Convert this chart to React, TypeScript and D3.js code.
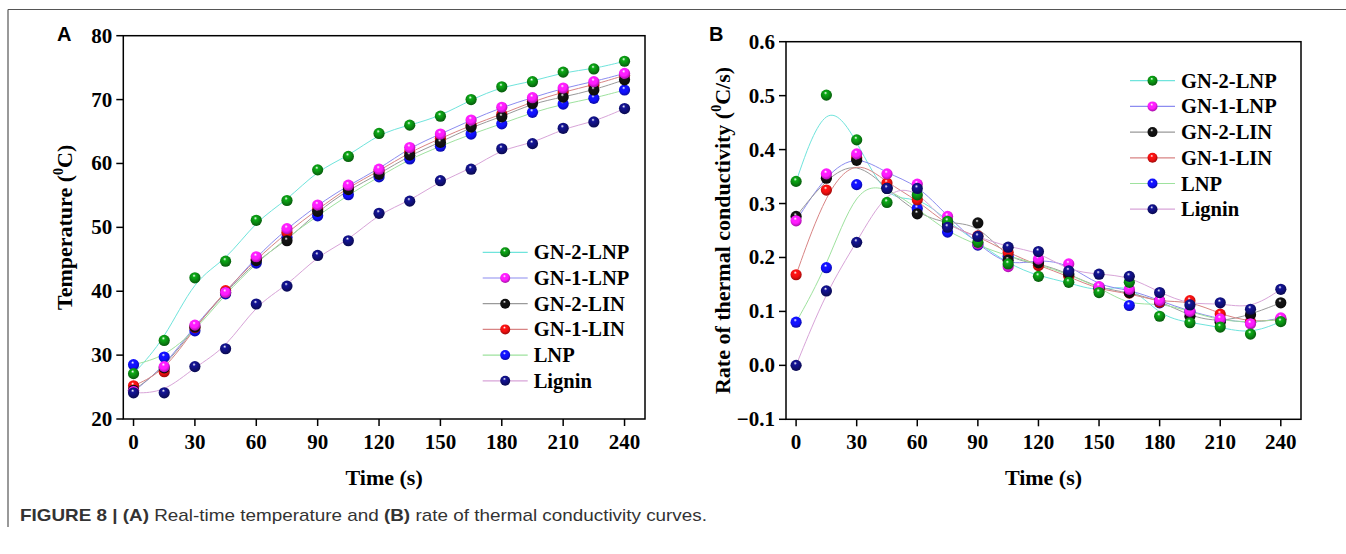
import React from "react";
import * as d3 from "d3";

// time axis (s)
const times = [0, 15, 30, 45, 60, 75, 90, 105, 120, 135, 150, 165, 180, 195, 210, 225, 240];
const xTicks = [0, 30, 60, 90, 120, 150, 180, 210, 240];

const seriesNames = ["GN-2-LNP", "GN-1-LNP", "GN-2-LIN", "GN-1-LIN", "LNP", "Lignin"];
const markerColors = ["#0a8a12", "#ff1aff", "#111111", "#f01010", "#1010ff", "#10107a"];
const lineColors = ["#6fe4dc", "#8c8cf0", "#9a9a9a", "#d88484", "#9ee29e", "#d8a4d8"];

// (A) temperature, degC
const tempGN2LNP = [27.1, 32.3, 42.1, 44.7, 51.1, 54.2, 59.0, 61.1, 64.7, 66.0, 67.4, 70.0, 72.0, 72.8, 74.3, 74.8, 76.0];
const tempGN1LNP = [24.3, 28.2, 34.7, 39.8, 45.4, 49.8, 53.5, 56.6, 59.1, 62.5, 64.6, 66.8, 68.8, 70.3, 71.8, 72.8, 74.1];
const tempGN2LIN = [24.5, 28.0, 34.4, 39.8, 44.8, 47.9, 52.5, 55.9, 58.3, 61.3, 63.3, 65.7, 67.3, 69.4, 70.4, 71.5, 73.1];
const tempGN1LIN = [25.2, 27.4, 34.3, 40.1, 45.0, 49.2, 52.8, 56.3, 58.8, 61.8, 63.9, 66.0, 67.7, 69.7, 71.2, 72.3, 73.8];
const tempLNP = [28.5, 29.7, 33.8, 39.6, 44.4, 48.4, 51.8, 55.1, 57.9, 60.7, 62.7, 64.6, 66.2, 68.0, 69.3, 70.2, 71.5];
const tempLignin = [24.1, 24.1, 28.2, 31.0, 38.0, 40.8, 45.6, 47.9, 52.2, 54.1, 57.3, 59.1, 62.3, 63.1, 65.5, 66.5, 68.6];
const tempTicks = [20, 30, 40, 50, 60, 70, 80];

// (B) rate of thermal conductivity, degC/s
const rateGN2LNP = [0.341, 0.501, 0.418, 0.302, 0.316, 0.267, 0.228, 0.188, 0.165, 0.154, 0.135, 0.154, 0.091, 0.079, 0.071, 0.058, 0.081];
const rateGN1LNP = [0.268, 0.355, 0.392, 0.355, 0.336, 0.276, 0.225, 0.183, 0.197, 0.188, 0.146, 0.141, 0.120, 0.100, 0.086, 0.077, 0.088];
const rateGN2LIN = [0.276, 0.347, 0.380, 0.328, 0.281, 0.262, 0.264, 0.195, 0.190, 0.170, 0.143, 0.135, 0.120, 0.091, 0.080, 0.094, 0.116];
const rateGN1LIN = [0.168, 0.325, 0.385, 0.338, 0.307, 0.258, 0.240, 0.209, 0.185, 0.165, 0.140, 0.134, 0.117, 0.120, 0.095, 0.080, 0.085];
const rateLNP = [0.080, 0.181, 0.335, 0.330, 0.291, 0.247, 0.223, 0.202, 0.188, 0.168, 0.145, 0.111, 0.116, 0.100, 0.083, 0.080, 0.085];
const rateLignin = [0.000, 0.138, 0.228, 0.328, 0.328, 0.256, 0.239, 0.219, 0.211, 0.175, 0.169, 0.165, 0.135, 0.112, 0.116, 0.104, 0.141];
const rateTicks = [-0.1, 0.0, 0.1, 0.2, 0.3, 0.4, 0.5, 0.6];

const tempSeries = [tempGN2LNP, tempGN1LNP, tempGN2LIN, tempGN1LIN, tempLNP, tempLignin];
const rateSeries = [rateGN2LNP, rateGN1LNP, rateGN2LIN, rateGN1LIN, rateLNP, rateLignin];

// marker draw order (last on top)
const drawOrder = [4, 3, 2, 1, 0, 5];

const serif = "'Liberation Serif', 'Times New Roman', serif";

type PanelProps = {
  label: string;
  left: number; right: number; top: number; bottom: number;
  yDomain: [number, number];
  yTicks: number[];
  yFmt: (v: number) => string;
  series: number[][];
  yTitle: string;
  yTitleX: number;
  legendX: number; legendY: number;
  labelX: number;
};

const Panel = (p: PanelProps) => {
  const x = d3.scaleLinear().domain([-5, 250]).range([p.left, p.right]);
  const y = d3.scaleLinear().domain(p.yDomain).range([p.bottom, p.top]);
  const line = d3.line<number>()
    .x((_, i) => x(times[i]))
    .y(v => y(v))
    .curve(d3.curveBasis);
  const midY = (p.top + p.bottom) / 2;

  return (
    <g>
      <text x={p.labelX} y={41} fontFamily="'Liberation Sans', Arial, sans-serif" fontWeight="bold" fontSize={20}>{p.label}</text>
      {/* lines */}
      {seriesNames.map((_, k) => (
        <path key={"l" + k} d={line(p.series[k]) || ""} fill="none" stroke={lineColors[k]} strokeWidth={1} />
      ))}
      {/* markers */}
      {drawOrder.map(k => (
        <g key={"m" + k}>
          {p.series[k].map((v, i) => (
            <circle key={i} cx={x(times[i])} cy={y(v)} r={5.6} fill={`url(#ball${k})`} />
          ))}
        </g>
      ))}
      {/* frame */}
      <rect x={p.left} y={p.top} width={p.right - p.left} height={p.bottom - p.top} fill="none" stroke="#000" strokeWidth={1.5} />
      {/* y ticks */}
      {p.yTicks.map(t => (
        <g key={"y" + t}>
          <line x1={p.left - 7} x2={p.left} y1={y(t)} y2={y(t)} stroke="#000" strokeWidth={1.5} />
          <text x={p.left - 11} y={y(t) + 7} textAnchor="end" fontFamily={serif} fontWeight="bold" fontSize={21}>{p.yFmt(t)}</text>
        </g>
      ))}
      {/* x ticks */}
      {xTicks.map(t => (
        <g key={"x" + t}>
          <line x1={x(t)} x2={x(t)} y1={p.bottom} y2={p.bottom + 7} stroke="#000" strokeWidth={1.5} />
          <text x={x(t)} y={p.bottom + 30} textAnchor="middle" fontFamily={serif} fontWeight="bold" fontSize={21}>{t}</text>
        </g>
      ))}
      <text x={(p.left + p.right) / 2} y={p.bottom + 66} textAnchor="middle" fontFamily={serif} fontWeight="bold" fontSize={22}>Time (s)</text>
      <text transform={`translate(${p.yTitleX},${midY}) rotate(-90)`} textAnchor="middle" fontFamily={serif} fontWeight="bold" fontSize={22}>
        {p.yTitle} (<tspan fontSize={14} dy={-9}>0</tspan><tspan dy={9}>{p.label === "A" ? "C)" : "C/s)"}</tspan>
      </text>
      {/* legend */}
      {seriesNames.map((name, k) => {
        const ly = p.legendY + k * 25.7;
        return (
          <g key={"lg" + k}>
            <line x1={p.legendX} x2={p.legendX + 45} y1={ly} y2={ly} stroke={lineColors[k]} strokeWidth={1.2} />
            <circle cx={p.legendX + 22.5} cy={ly} r={5} fill={`url(#ball${k})`} />
            <text x={p.legendX + 51} y={ly + 7} fontFamily={serif} fontWeight="bold" fontSize={20.5}>{name}</text>
          </g>
        );
      })}
    </g>
  );
};

export default function App() {
  return (
    <svg width={1346} height={554} style={{ position: "absolute", left: 0, top: 0, background: "#fff" }}>
      <defs>
        {markerColors.map((c, k) => (
          <radialGradient key={k} id={`ball${k}`} cx="45%" cy="40%" r="60%" fx="42%" fy="30%">
            <stop offset="0%" stopColor="#ffffff" />
            <stop offset="25%" stopColor={d3.color(c)!.brighter(0.6).toString()} />
            <stop offset="60%" stopColor={c} />
            <stop offset="100%" stopColor={d3.color(c)!.darker(1.2).toString()} />
          </radialGradient>
        ))}
      </defs>
      {/* figure border */}
      <line x1={8} x2={1346} y1={9.5} y2={9.5} stroke="#555" strokeWidth={1.2} />
      <line x1={8} x2={8} y1={9.5} y2={527} stroke="#555" strokeWidth={1.2} />

      <Panel label="A" left={123.3} right={645} top={35.7} bottom={419}
        yDomain={[20, 80]} yTicks={tempTicks} yFmt={v => String(v)}
        series={tempSeries} yTitle="Temperature" yTitleX={72}
        legendX={482.7} legendY={252.3} labelX={57} />
      <Panel label="B" left={786} right={1301} top={41.7} bottom={419.3}
        yDomain={[-0.1, 0.6]} yTicks={rateTicks} yFmt={v => d3.format(".1f")(v)}
        series={rateSeries} yTitle="Rate of thermal conductivity" yTitleX={730}
        legendX={1130} legendY={80.7} labelX={709} />

      <text x={20} y={521} fontFamily="'Liberation Sans Narrow', 'Arial Narrow', 'Liberation Sans', sans-serif" fontSize={17} fill="#333"
        textLength={687} lengthAdjust="spacingAndGlyphs">
        <tspan fontWeight="bold">FIGURE 8 | (A)</tspan> Real-time temperature and <tspan fontWeight="bold">(B)</tspan> rate of thermal conductivity curves.
      </text>
    </svg>
  );
}
